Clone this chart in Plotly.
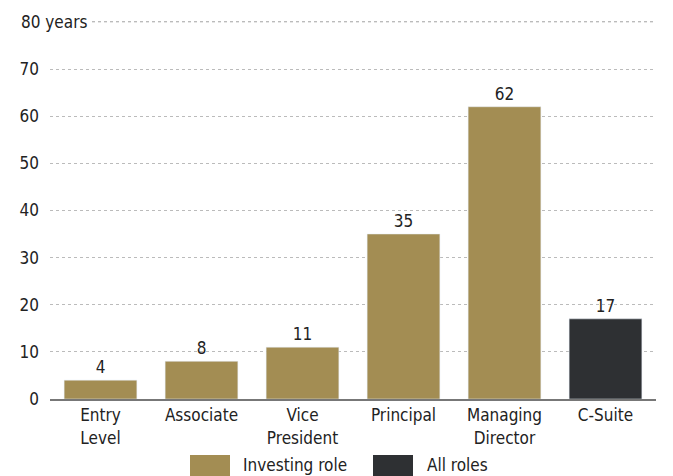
import plotly.graph_objects as go

categories = ["Entry<br>Level", "Associate", "Vice<br>President", "Principal", "Managing<br>Director", "C-Suite"]
investing_cats = categories[:5]
investing_vals = [4, 8, 11, 35, 62]
all_cats = categories[5:]
all_vals = [17]
tick_vals = [0, 10, 20, 30, 40, 50, 60, 70, 80]
tick_text = ["0", "10", "20", "30", "40", "50", "60", "70", ""]

GOLD = "#A38D53"
DARK = "#2E3033"
FONT = "Liberation Sans Narrow, DejaVu Sans Condensed, Roboto, sans-serif"
TXT = "#222222"
GRID = "#BBBBBB"

# page offset (browser body margin) compensation
OFF = 8
PL, PB, PW, PH = 50, 399, 606, 379  # plot area on the page

fig = go.Figure()
fig.add_trace(go.Bar(x=investing_cats, y=investing_vals, name="Investing role",
                     marker_color=GOLD, text=investing_vals, textposition="outside",
                     textfont=dict(size=17, color=TXT, family=FONT), cliponaxis=False))
fig.add_trace(go.Bar(x=all_cats, y=all_vals, name="All roles",
                     marker_color=DARK, text=all_vals, textposition="outside",
                     textfont=dict(size=17, color=TXT, family=FONT), cliponaxis=False))

W, H = 673 - OFF, 476 - OFF
fig.update_layout(
    width=W, height=H,
    margin=dict(l=PL - OFF, r=W - (PL - OFF) - PW, t=PB - PH - OFF, b=H - (PB - OFF), pad=0),
    paper_bgcolor="white", plot_bgcolor="white",
    barmode="relative", bargap=0.28,
    showlegend=False,
    font=dict(family=FONT, size=17, color=TXT),
    xaxis=dict(categoryorder="array", categoryarray=categories,
               showline=True, linecolor="#777777", linewidth=2,
               ticks="", tickfont=dict(size=17, color=TXT, family=FONT)),
    yaxis=dict(range=[0, 80.4], tickvals=tick_vals, ticktext=tick_text,
               showgrid=True, gridcolor=GRID, griddash="dot", gridwidth=1,
               zeroline=False, ticks="", ticklabelstandoff=10,
               tickfont=dict(size=17, color=TXT, family=FONT)),
)

# top gridline (80) drawn explicitly
fig.add_shape(type="line", xref="paper", yref="y", x0=0, x1=1, y0=80, y1=80,
              line=dict(color=GRID, width=1, dash="dot"), layer="below")

# "80 years" top label
fig.add_annotation(xref="paper", yref="y", x=(16 - PL) / PW, y=80, text="80 years",
                   showarrow=False, xanchor="left", yanchor="middle",
                   bgcolor="white", borderpad=4,
                   font=dict(size=17, color=TXT, family=FONT))

# custom legend
legend_items = [("Investing role", GOLD, 190, 241), ("All roles", DARK, 373, 425)]
for name, color, sx, tx in legend_items:
    fig.add_shape(type="rect", xref="paper", yref="paper",
                  x0=(sx - PL) / PW, x1=(sx + 40 - PL) / PW,
                  y0=(PB - 476) / PH, y1=(PB - 455) / PH,
                  fillcolor=color, line_width=0)
    fig.add_annotation(xref="paper", yref="paper", x=(tx - PL) / PW,
                       y=(PB - 465) / PH, text=name, showarrow=False,
                       xanchor="left", yanchor="middle",
                       font=dict(size=17, color=TXT, family=FONT))

fig.write_html("out.html")
